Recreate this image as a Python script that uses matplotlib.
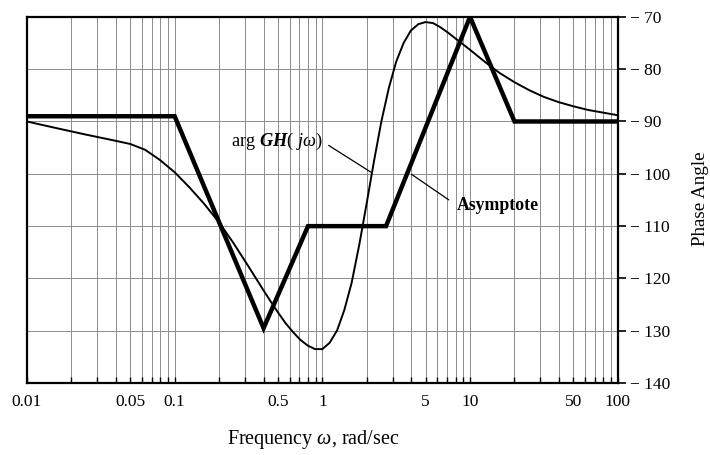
import matplotlib
matplotlib.use("Agg")
import matplotlib.pyplot as plt
from matplotlib.ticker import FixedLocator, LogLocator, NullFormatter

plt.rcParams["font.family"] = ["Liberation Serif", "DejaVu Serif"]
plt.rcParams["mathtext.fontset"] = "custom"
plt.rcParams["mathtext.rm"] = "Liberation Serif"
plt.rcParams["mathtext.it"] = "Liberation Serif:italic"
plt.rcParams["mathtext.bf"] = "Liberation Serif:italic:bold"

# straight-line (asymptotic) phase approximation
asym_freq = [0.01, 0.1, 0.4, 0.8, 2.7, 10, 20, 100]
asym_phase = [-89, -89, -129.5, -110, -110, -70, -90, -90]

# exact phase curve arg GH(jw), read point by point
curve_freq = [0.01, 0.016, 0.025, 0.04, 0.05, 0.063, 0.079, 0.1, 0.126, 0.158,
              0.2, 0.251, 0.316, 0.398, 0.447, 0.501, 0.562, 0.631, 0.708, 0.794,
              0.891, 1.0, 1.12, 1.26, 1.41, 1.58, 1.78, 2.0, 2.24, 2.51,
              2.82, 3.16, 3.55, 3.98, 4.47, 5.0, 5.62, 6.31, 7.08, 7.94,
              10, 12.6, 15.8, 20, 25.1, 31.6, 39.8, 50.1, 63.1, 79.4, 100]
curve_phase = [-90.0, -91.3, -92.5, -93.7, -94.3, -95.4, -97.3, -99.7, -102.6, -105.7,
               -109.3, -113.3, -117.7, -122.2, -124.4, -126.5, -128.5, -130.2, -131.7, -132.8,
               -133.5, -133.5, -132.3, -129.9, -126.0, -120.8, -113.5, -105.5, -97.5, -90.0,
               -83.6, -78.6, -75.0, -72.6, -71.4, -71.0, -71.2, -72.0, -73.0, -74.1,
               -76.3, -78.6, -80.7, -82.5, -84.0, -85.3, -86.3, -87.1, -87.8, -88.3, -88.8]

x_ticks = [0.01, 0.05, 0.1, 0.5, 1, 5, 10, 50, 100]
x_tick_labels = ["0.01", "0.05", "0.1", "0.5", "1", "5", "10", "50", "100"]
y_ticks = [-140, -130, -120, -110, -100, -90, -80, -70]

fig = plt.figure(figsize=(7.1, 4.55), dpi=100)
ax = fig.add_axes([0.038, 0.158, 0.832, 0.805])

ax.set_xscale("log")
ax.set_xlim(0.01, 100)
ax.set_ylim(-140, -70)

# grid on every decade subdivision and every 10 degrees
ax.xaxis.set_major_locator(FixedLocator(x_ticks))
ax.xaxis.set_minor_locator(LogLocator(base=10, subs=range(1, 10), numticks=50))
ax.xaxis.set_minor_formatter(NullFormatter())
ax.set_xticklabels(x_tick_labels)
ax.grid(True, which="both", axis="x", color="#8c8c8c", linewidth=0.7)
ax.grid(True, which="major", axis="y", color="#8c8c8c", linewidth=0.7)
ax.set_axisbelow(True)

ax.yaxis.tick_right()
ax.set_yticks(y_ticks)
ax.set_yticklabels(["\u2212 " + str(-v) for v in y_ticks])
ax.tick_params(axis="y", which="major", direction="out", length=6, width=1.2,
               labelsize=12.5, pad=3)
ax.tick_params(axis="x", which="both", direction="in", length=4.5, width=1.0,
               labelsize=12.5, pad=8)

for side in ["left", "right", "bottom", "top"]:
    ax.spines[side].set_linewidth(1.6)

ax.plot(asym_freq, asym_phase, color="black", linewidth=3.2, solid_joinstyle="miter")
ax.plot(curve_freq, curve_phase, color="black", linewidth=1.4)

ax.annotate(r"arg $\mathbf{GH}$( $j\omega$)", xy=(2.15, -99.75), xytext=(1.0, -93.8),
            ha="right", va="center", fontsize=13.2,
            arrowprops=dict(arrowstyle="-", color="black", linewidth=0.9,
                            relpos=(1.0, 0.5), shrinkA=3, shrinkB=0))
ax.annotate("Asymptote", xy=(4.02, -100.1), xytext=(8.2, -106.1),
            ha="left", va="center", fontsize=12.8, fontweight="bold",
            arrowprops=dict(arrowstyle="-", color="black", linewidth=0.9,
                            relpos=(0.0, 0.5), shrinkA=5, shrinkB=0))

fig.text(0.441, 0.033, "Frequency $\\omega$, rad/sec", ha="center", va="center", fontsize=14.5)
fig.text(0.986, 0.564, "Phase Angle", ha="center", va="center", rotation=90, fontsize=13.7)

fig.savefig("out.png", dpi=100)
